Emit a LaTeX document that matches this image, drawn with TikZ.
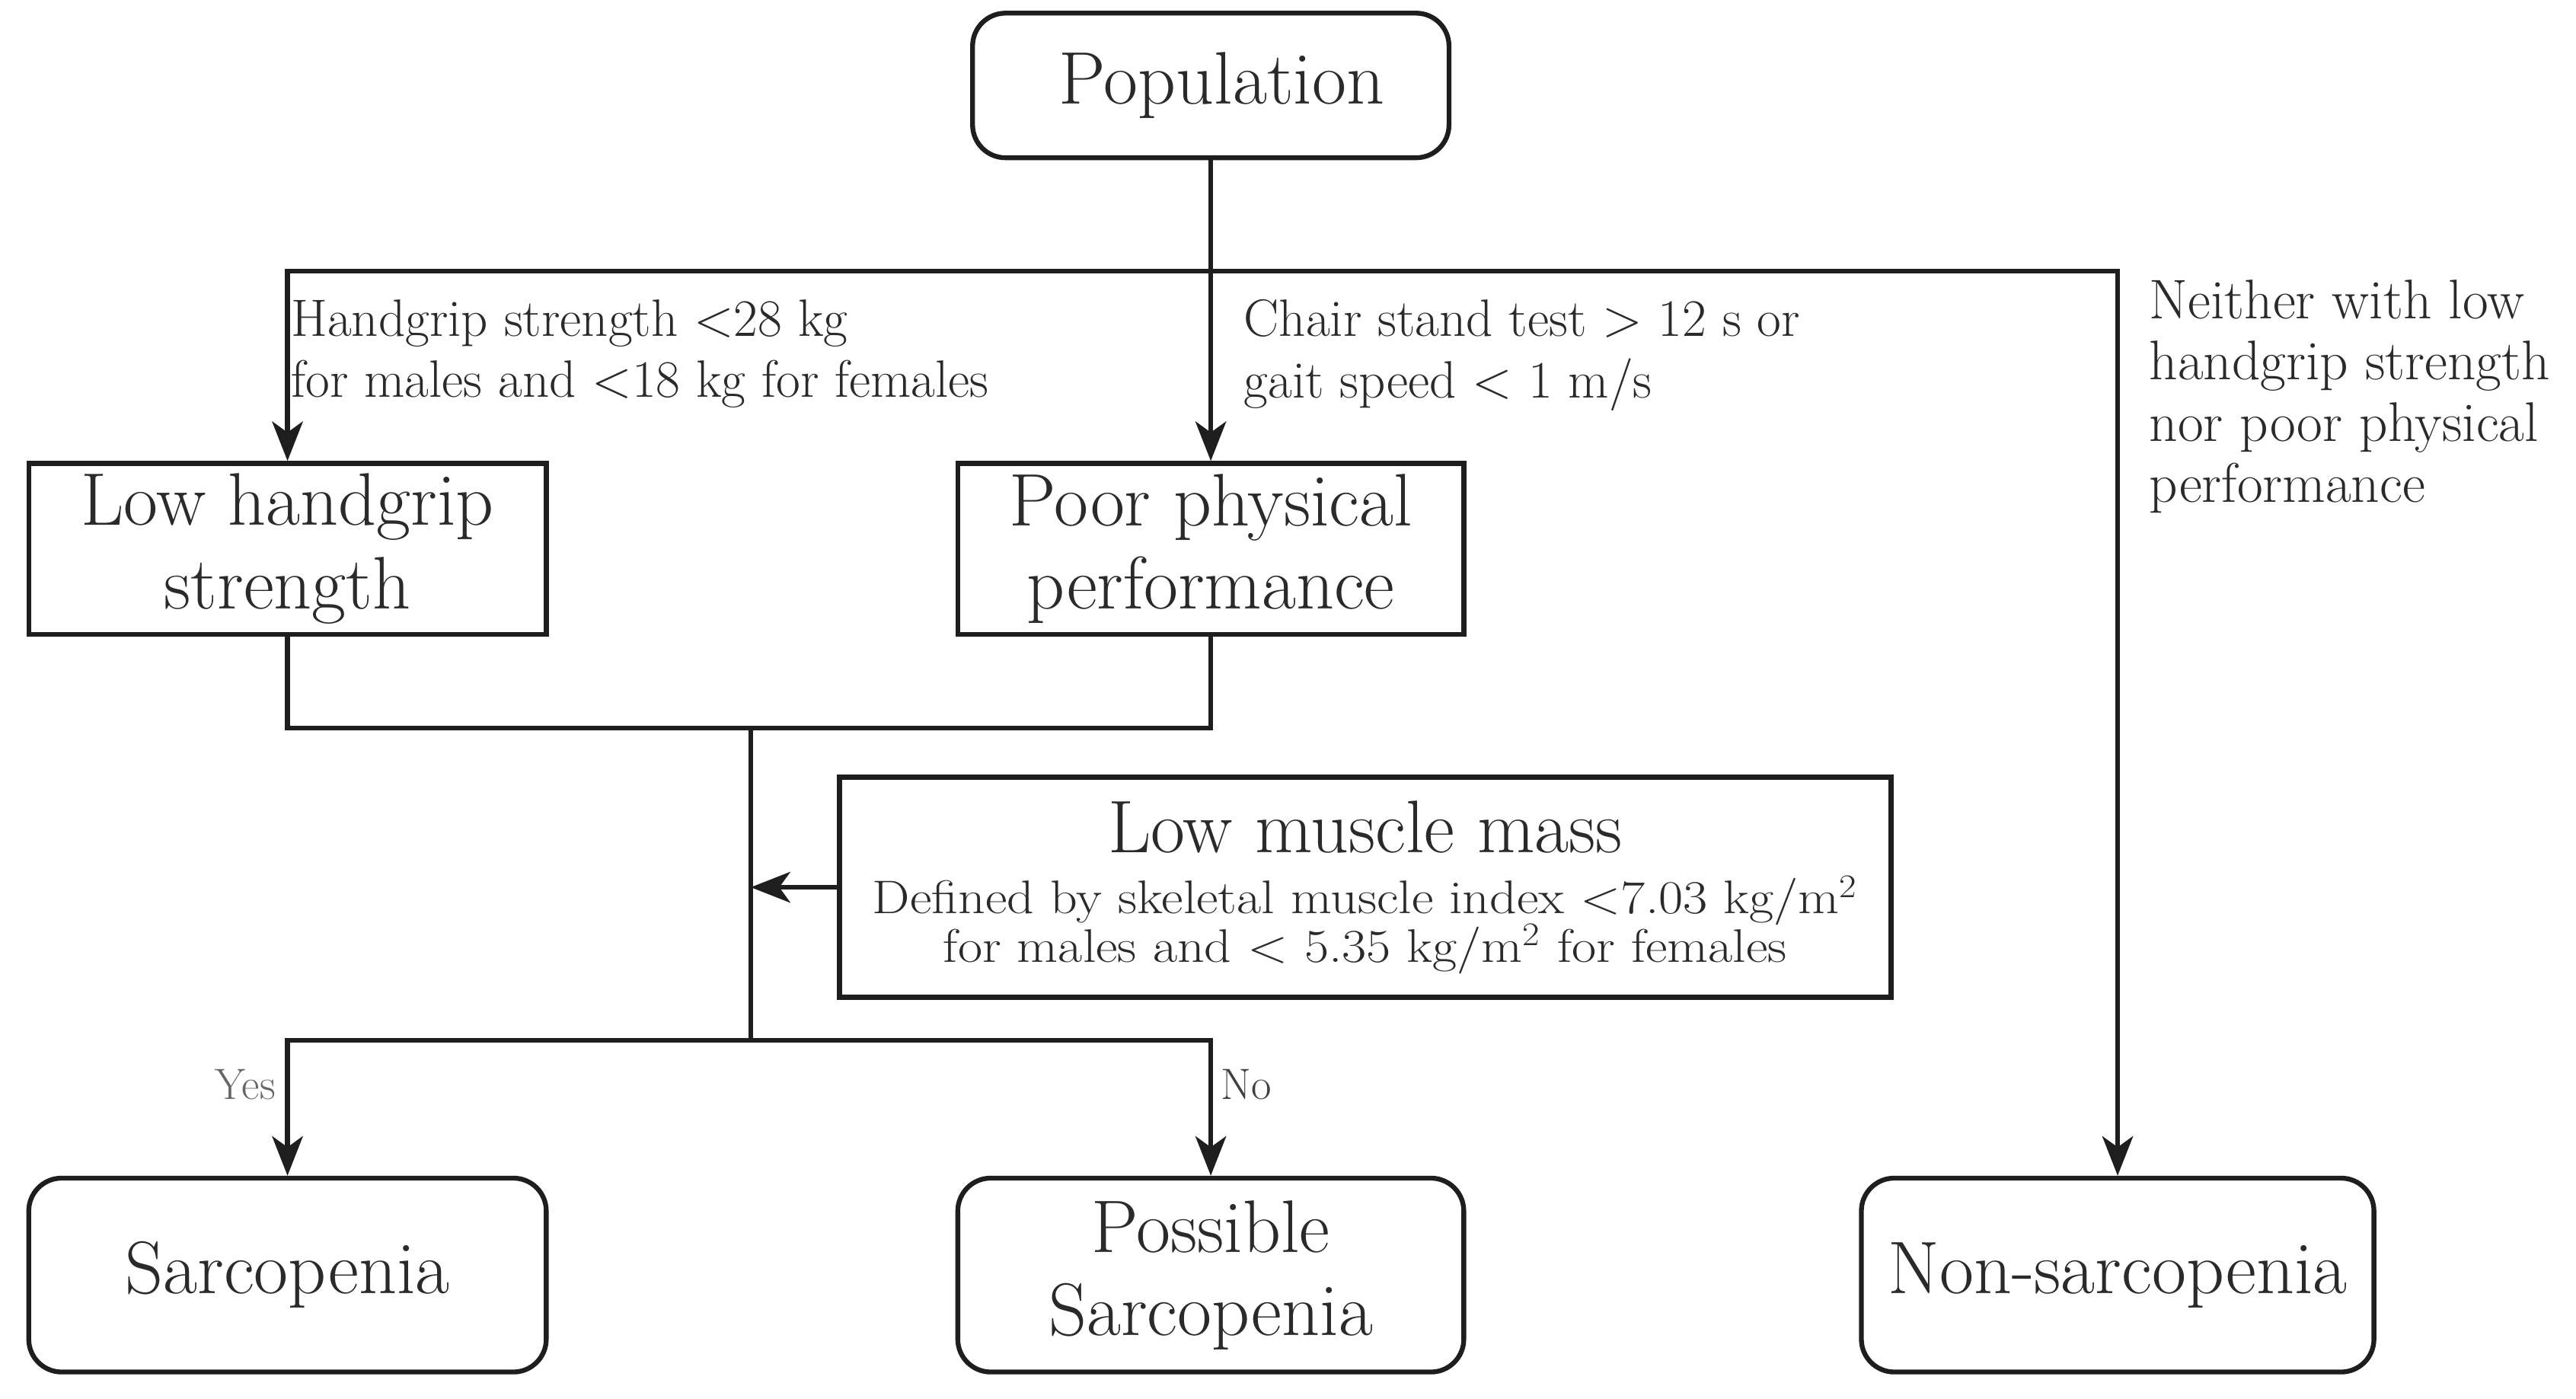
\documentclass[tikz,border=0pt]{standalone}
\usepackage{graphicx}
\usepackage{tikz}
\usetikzlibrary{positioning,arrows.meta}
\definecolor{ink}{HTML}{1E1E1E}
\definecolor{txt}{HTML}{2A2A2A}
\newcommand{\subline}[1]{\scalebox{1.13}[1]{#1}}

\begin{document}
\begin{tikzpicture}[x=0.75pt,y=0.75pt,yscale=-1,xscale=1,
    boxtxt/.style={font=\fontsize{34}{38}\selectfont, text=txt, align=center},
    sqbox/.style={boxtxt, draw=ink, line width=2.2pt, rectangle, inner sep=0pt},
    rbox/.style={sqbox, rounded corners=15pt},
    cond/.style={font=\fontsize{24}{28}\selectfont, text=txt, align=left, anchor=north west, inner sep=0pt},
    yn/.style={font=\fontsize{20}{22}\selectfont, inner sep=0pt},
    flow/.style={draw=ink, line width=2.2pt},
    arr/.style={flow, -{Stealth[length=18pt,width=14pt,inset=5pt]}}]
\useasboundingbox (0,0) rectangle (1568,851);

% Boxes
\node (pop) at (737,52) [rbox, minimum width=217.5pt, minimum height=66pt] {\hspace*{10pt}Population};
\node (lhs) at (175,334) [sqbox, minimum width=236.25pt, minimum height=78pt] {Low handgrip\\strength};
\node (ppp) at (737,334) [sqbox, minimum width=231pt, minimum height=78pt] {Poor physical\\performance};
\node (lmm) at (831,540) [sqbox, minimum width=480pt, minimum height=100.5pt] {Low muscle mass\\[-10pt]
    {\fontsize{21.5}{19}\selectfont\subline{Defined by skeletal muscle index <7.03 kg/m\textsuperscript{2}}}\\[-16pt]
    {\fontsize{21.5}{19}\selectfont\subline{for males and < 5.35 kg/m\textsuperscript{2} for females}}};
\node (sarc) at (175,776) [rbox, minimum width=236.25pt, minimum height=88.5pt] {Sarcopenia};
\node (poss) at (737,776) [rbox, minimum width=231pt, minimum height=88.5pt] {Possible\\Sarcopenia};
\node (non) at (1289,776) [rbox, minimum width=234pt, minimum height=88.5pt] {Non-sarcopenia};

% Junctions
\coordinate (split) at (737,165);
\coordinate (join) at (457,443);
\coordinate (fork) at (457,633);

%Straight Lines
\draw [flow] (pop.south) -- (split);
\draw [arr] (split) -| (lhs.north);
\draw [arr] (split) -- (ppp.north);
\draw [arr] (split) -| (non.north);
\draw [flow] (lhs.south) |- (join) -| (ppp.south);
\draw [flow] (join) -- (fork);
\draw [arr] (lmm.west) -- (lmm.west -| join);
\draw [arr] (fork) -| (sarc.north);
\draw [arr] (fork) -| (poss.north);

% Text Node
\node (hgs) at (177,182) [cond] {Handgrip strength <28 kg\\for males and <18 kg for females};
% Text Node
\node (cst) at (757,182) [cond] {Chair stand test > 12 s or\\gait speed < 1 m/s};
% Text Node
\node (nei) at (1308,170) [cond, font=\fontsize{25.5}{28}\selectfont] {Neither with low\\handgrip strength\\nor poor physical\\performance};
% Text Node
\node (yes) at (168,660) [yn, anchor=east, text=black!60] {Yes};
% Text Node
\node (no) at (743,660) [yn, anchor=west, text=black!75] {No};

\end{tikzpicture}
\end{document}
